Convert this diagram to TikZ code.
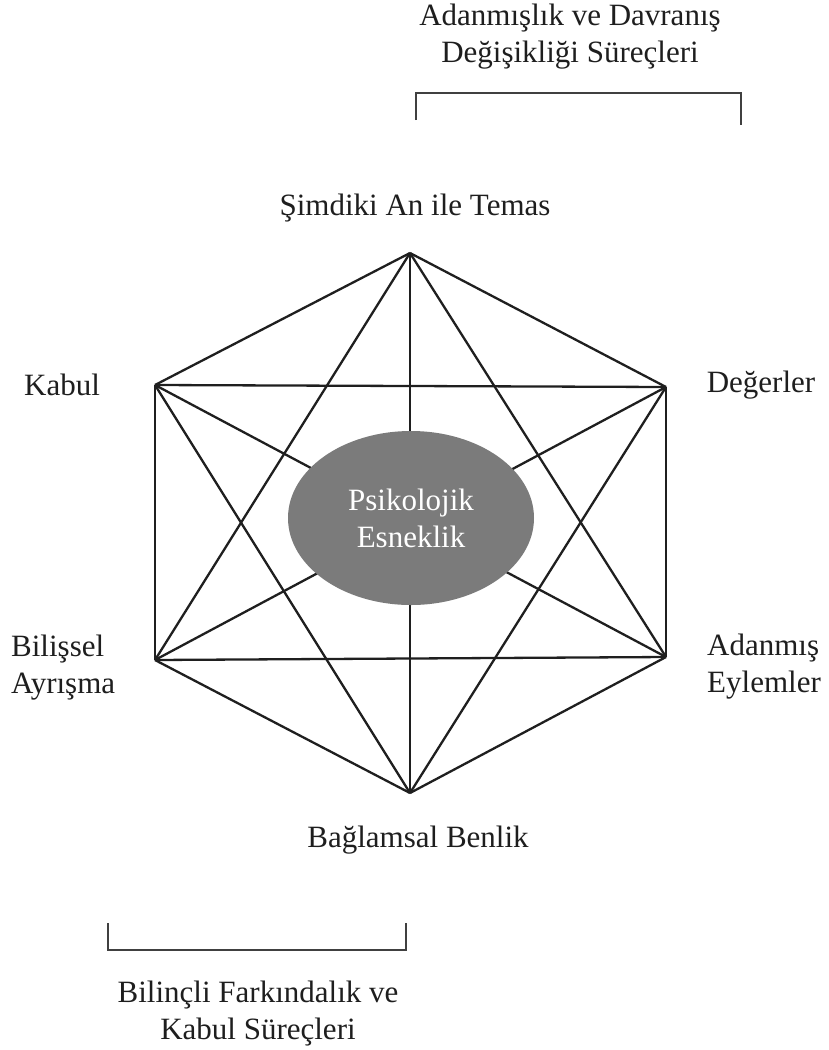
\documentclass[tikz,border=0pt]{standalone}
\usepackage{fontspec}
\setmainfont{Liberation Serif}
\usetikzlibrary{shapes.geometric}
\definecolor{ellgray}{HTML}{7B7B7B}
\definecolor{txt}{HTML}{1E1E1E}
\begin{document}
\begin{tikzpicture}[x=1pt,y=-1pt,
  lbl/.style={font=\fontsize{31}{37}\selectfont, text=txt, align=center, inner sep=0pt},
  edge/.style={line width=2.3pt, draw=black!88},
  brk/.style={line width=2pt, draw=black!75},
  vtx/.style={coordinate}]
\useasboundingbox (0,0) rectangle (828,1050);
\node[vtx] (T) at (410,253) {};
\node[vtx] (UL) at (155,385) {};
\node[vtx] (UR) at (666,387) {};
\node[vtx] (LL) at (155,660) {};
\node[vtx] (LR) at (666,657) {};
\node[vtx] (B) at (410,793) {};
\foreach \a/\b in {T/UL,T/UR,T/LL,T/LR,T/B,UL/UR,UL/LL,UL/LR,UL/B,UR/LL,UR/LR,UR/B,LL/LR,LL/B,LR/B}
  \draw[edge] (\a) -- (\b);
\node[ellipse, fill=ellgray, minimum width=246pt, minimum height=174pt, inner sep=0pt,
      text=white, align=center, font=\fontsize{31}{37}\selectfont] (PE) at (411,518)
      {Psikolojik\\Esneklik};
\node[lbl] (tt1) at (570,37) {Adanmışlık ve Davranış\\Değişikliği Süreçleri};
\coordinate (b1a) at (416,120);
\coordinate (b1b) at (416,93);
\coordinate (b1c) at (741,93);
\coordinate (b1d) at (741,125);
\draw[brk] (b1a) -- (b1b) -- (b1c) -- (b1d);
\node[lbl] (smd) at (415,208) {Şimdiki An ile Temas};
\node[lbl] (kab) at (62,385) {Kabul};
\node[lbl] (deg) at (761,385) {Değerler};
\node[lbl, align=left, anchor=west] (bil) at (11,668) {Bilişsel\\Ayrışma};
\node[lbl, align=left, anchor=west] (ada) at (707,667) {Adanmış\\Eylemler};
\node[lbl] (bag) at (418,840) {Bağlamsal Benlik};
\coordinate (b2a) at (108,923);
\coordinate (b2b) at (108,950);
\coordinate (b2c) at (406,950);
\coordinate (b2d) at (406,923);
\draw[brk] (b2a) -- (b2b) -- (b2c) -- (b2d);
\node[lbl] (bot) at (258,1014) {Bilinçli Farkındalık ve\\Kabul Süreçleri};
\end{tikzpicture}
\end{document}
